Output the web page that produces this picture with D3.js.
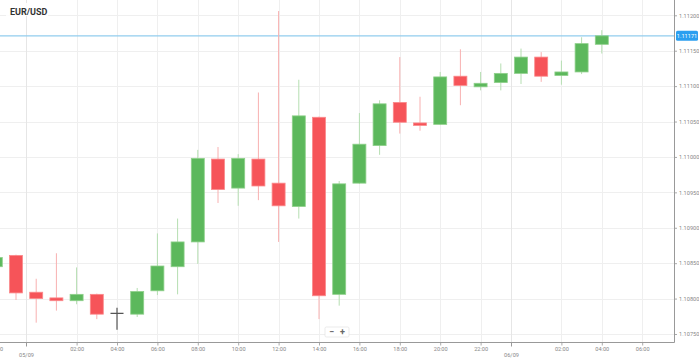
<!DOCTYPE html>
<html>
<head>
<meta charset="utf-8">
<script src="https://cdn.jsdelivr.net/npm/d3@7"></script>
<style>
  html, body { margin: 0; padding: 0; background: #fff; }
  #chart { width: 699px; height: 361px; }
  text { font-family: Roboto, "Noto Sans", sans-serif; }
</style>
</head>
<body>
<div id="chart"></div>
<script>
// Hourly EUR/USD candles, 04/09 22:00 through 06/09 04:00
var times = [
  "2019-09-04T22:00", "2019-09-04T23:00",
  "2019-09-05T00:00", "2019-09-05T01:00", "2019-09-05T02:00", "2019-09-05T03:00",
  "2019-09-05T04:00", "2019-09-05T05:00", "2019-09-05T06:00", "2019-09-05T07:00",
  "2019-09-05T08:00", "2019-09-05T09:00", "2019-09-05T10:00", "2019-09-05T11:00",
  "2019-09-05T12:00", "2019-09-05T13:00", "2019-09-05T14:00", "2019-09-05T15:00",
  "2019-09-05T16:00", "2019-09-05T17:00", "2019-09-05T18:00", "2019-09-05T19:00",
  "2019-09-05T20:00", "2019-09-05T21:00", "2019-09-05T22:00", "2019-09-05T23:00",
  "2019-09-06T00:00", "2019-09-06T01:00", "2019-09-06T02:00", "2019-09-06T03:00",
  "2019-09-06T04:00"
];
var open  = [1.10845, 1.10861, 1.10809, 1.10801, 1.10797, 1.10806, 1.10779, 1.10778,
             1.10811, 1.10845, 1.10880, 1.10997, 1.10956, 1.10997, 1.10963, 1.10930,
             1.11056, 1.10806, 1.10963, 1.11016, 1.11077, 1.11048, 1.11046, 1.11114,
             1.11099, 1.11105, 1.11118, 1.11141, 1.11115, 1.11120, 1.11159];
var high  = [1.10860, 1.10862, 1.10828, 1.10864, 1.10844, 1.10807, 1.10787, 1.10815,
             1.10892, 1.10913, 1.11010, 1.11014, 1.11004, 1.11091, 1.11206, 1.11109,
             1.11057, 1.10966, 1.11062, 1.11080, 1.11141, 1.11085, 1.11120, 1.11152,
             1.11120, 1.11132, 1.11153, 1.11148, 1.11136, 1.11169, 1.11179];
var low   = [1.10842, 1.10798, 1.10766, 1.10783, 1.10792, 1.10771, 1.10756, 1.10774,
             1.10805, 1.10806, 1.10849, 1.10935, 1.10931, 1.10939, 1.10880, 1.10913,
             1.10771, 1.10790, 1.10962, 1.11003, 1.11033, 1.11037, 1.11045, 1.11073,
             1.11094, 1.11094, 1.11103, 1.11106, 1.11102, 1.11117, 1.11146];
var close = [1.10858, 1.10808, 1.10800, 1.10797, 1.10806, 1.10778, 1.10779, 1.10810,
             1.10846, 1.10880, 1.10998, 1.10954, 1.10998, 1.10959, 1.10931, 1.11058,
             1.10804, 1.10962, 1.11018, 1.11075, 1.11049, 1.11045, 1.11113, 1.11101,
             1.11104, 1.11118, 1.11141, 1.11114, 1.11120, 1.11160, 1.11171];

var priceTicks = [1.1075, 1.108, 1.1085, 1.109, 1.1095, 1.11, 1.1105, 1.111, 1.1115, 1.112];
var lastPrice = 1.11171;
var title = "EUR/USD";

var width = 699, height = 361;
var plotRight = 674, plotBottom = 342.5;
var parse = d3.timeParse("%Y-%m-%dT%H:%M");
var hour = 3600 * 1000;

var candles = times.map(function (t, i) {
  return { t: parse(t), o: open[i], h: high[i], l: low[i], c: close[i] };
});

// first candle centre sits 4.2px left of the frame, 20.2px per hour
var t0 = candles[0].t.getTime();
var pxPerHour = 20.2, firstX = -4.2;
var x = d3.scaleTime()
  .domain([new Date(t0 - hour * firstX / pxPerHour),
           new Date(t0 + hour * (plotRight - firstX) / pxPerHour)])
  .range([0, plotRight]);

var y = d3.scaleLinear().domain([1.1075, 1.112]).range([334, 15.3]);

var svg = d3.select("#chart").append("svg")
  .attr("width", width).attr("height", height);

var plot = svg.append("g");
plot.append("clipPath").attr("id", "clip")
  .append("rect").attr("width", plotRight).attr("height", plotBottom);

// hour ticks every 2h, skipping midnight (the date separator takes its place)
var hourTicks = d3.timeHour.every(2).range(new Date(t0), x.domain()[1])
  .filter(function (d) { return d.getHours() !== 0; });
var dayTicks = d3.timeDay.range(x.domain()[0], x.domain()[1]).map(function (d) {
  return { date: d, pos: new Date(d.getTime() - hour / 2) };
});

var grid = plot.append("g").attr("clip-path", "url(#clip)");
grid.selectAll("line.hg").data(priceTicks).join("line")
  .attr("x1", 0).attr("x2", plotRight)
  .attr("y1", function (d) { return Math.round(y(d)) + 0.5; })
  .attr("y2", function (d) { return Math.round(y(d)) + 0.5; })
  .attr("stroke", "#efefef");
grid.selectAll("line.vg").data(hourTicks).join("line")
  .attr("x1", function (d) { return Math.round(x(d)) + 0.5; })
  .attr("x2", function (d) { return Math.round(x(d)) + 0.5; })
  .attr("y1", 0).attr("y2", plotBottom)
  .attr("stroke", "#efefef");
grid.selectAll("line.dg").data(dayTicks).join("line")
  .attr("x1", function (d) { return Math.round(x(d.pos)) + 0.5; })
  .attr("x2", function (d) { return Math.round(x(d.pos)) + 0.5; })
  .attr("y1", 0).attr("y2", plotBottom)
  .attr("stroke", "#e6e6e6");

// last price line
plot.append("line")
  .attr("x1", 0).attr("x2", plotRight)
  .attr("y1", y(lastPrice)).attr("y2", y(lastPrice))
  .attr("stroke", "#92cdee").attr("stroke-width", 1.4);

// candles
var bodyW = 13;
var up = "#5cb85c", down = "#f65459";
var cg = plot.append("g").attr("clip-path", "url(#clip)");
var c = cg.selectAll("g.candle").data(candles).join("g");
c.append("line")
  .attr("x1", function (d) { return x(d.t); })
  .attr("x2", function (d) { return x(d.t); })
  .attr("y1", function (d) { return y(d.h); })
  .attr("y2", function (d) { return y(d.l); })
  .attr("stroke", function (d) { return d.c === d.o ? "#555" : d.c > d.o ? "#b5deb1" : "#f8b0b0"; })
  .attr("stroke-width", function (d) { return d.c === d.o ? 1.2 : 1; });
c.filter(function (d) { return d.c !== d.o; }).append("rect")
  .attr("x", function (d) { return x(d.t) - bodyW / 2; })
  .attr("width", bodyW)
  .attr("y", function (d) { return y(Math.max(d.o, d.c)); })
  .attr("height", function (d) { return Math.max(2.5, Math.abs(y(d.o) - y(d.c))); })
  .attr("fill", function (d) { return d.c > d.o ? up : down; })
  .attr("stroke", function (d) { return d.c > d.o ? "#8fd08b" : "#fb8a8c"; })
  .attr("stroke-width", 0.8);
c.filter(function (d) { return d.c === d.o; }).append("line")
  .attr("x1", function (d) { return x(d.t) - bodyW / 2; })
  .attr("x2", function (d) { return x(d.t) + bodyW / 2; })
  .attr("y1", function (d) { return y(d.o); })
  .attr("y2", function (d) { return y(d.o); })
  .attr("stroke", "#555").attr("stroke-width", 1.2);

// axes
var yAxis = d3.axisRight(y).tickValues(priceTicks).tickFormat(d3.format(".5f")).tickSize(3).tickPadding(2);
var yg = svg.append("g").attr("transform", "translate(" + plotRight + ",0)").call(yAxis);
yg.select(".domain").remove();
yg.selectAll("line").attr("stroke", "#aaa");
yg.selectAll("text").attr("font-size", 5.6).attr("fill", "#888");
svg.append("line").attr("x1", plotRight + 0.5).attr("x2", plotRight + 0.5)
  .attr("y1", 0).attr("y2", plotBottom).attr("stroke", "#999");

var xAxis = d3.axisBottom(x).tickValues(hourTicks).tickFormat(d3.timeFormat("%H:%M")).tickSize(3).tickPadding(1.5);
var xg = svg.append("g").attr("transform", "translate(0," + plotBottom + ")").call(xAxis);
xg.select(".domain").remove();
xg.selectAll("line").attr("stroke", "#aaa");
xg.selectAll("text").attr("font-size", 5.6).attr("fill", "#888");
svg.append("line").attr("x1", 0).attr("x2", plotRight + 0.5)
  .attr("y1", plotBottom).attr("y2", plotBottom).attr("stroke", "#999");

var dg = svg.append("g").selectAll("g").data(dayTicks).join("g")
  .attr("transform", function (d) { return "translate(" + (Math.round(x(d.pos)) + 0.5) + "," + plotBottom + ")"; });
dg.append("line").attr("y2", 4).attr("stroke", "#999");
dg.append("text").attr("y", 14.5).attr("text-anchor", "middle")
  .attr("font-size", 5.6).attr("fill", "#888")
  .text(function (d) { return d3.timeFormat("%d/%m")(d.date); });

// last price badge
var badge = svg.append("g").attr("transform", "translate(676," + y(lastPrice) + ")");
badge.append("rect").attr("x", 0).attr("y", -5).attr("width", 22).attr("height", 10)
  .attr("rx", 1.5).attr("fill", "#2b9ff0");
badge.append("text").attr("x", 11).attr("y", 2).attr("text-anchor", "middle")
  .attr("font-size", 5.6).attr("fill", "#fff").text(lastPrice.toFixed(5));

// title
svg.append("rect").attr("x", 6).attr("y", 3).attr("width", 42).attr("height", 13)
  .attr("fill", "#fff").attr("opacity", 0.85);
svg.append("text").attr("x", 10).attr("y", 14.5)
  .attr("font-size", 9).attr("font-weight", "bold").attr("fill", "#333").text(title);

// zoom buttons
var zb = svg.append("g").attr("transform", "translate(325,327)");
zb.append("rect").attr("width", 24).attr("height", 10).attr("rx", 1.5)
  .attr("fill", "#fff").attr("stroke", "#ddd").attr("stroke-width", 0.6);
zb.append("text").attr("x", 6.5).attr("y", 8).attr("text-anchor", "middle")
  .attr("font-size", 9).attr("font-weight", "bold").attr("fill", "#666").text("−");
zb.append("text").attr("x", 17.5).attr("y", 8).attr("text-anchor", "middle")
  .attr("font-size", 9).attr("font-weight", "bold").attr("fill", "#666").text("+");
</script>
</body>
</html>
